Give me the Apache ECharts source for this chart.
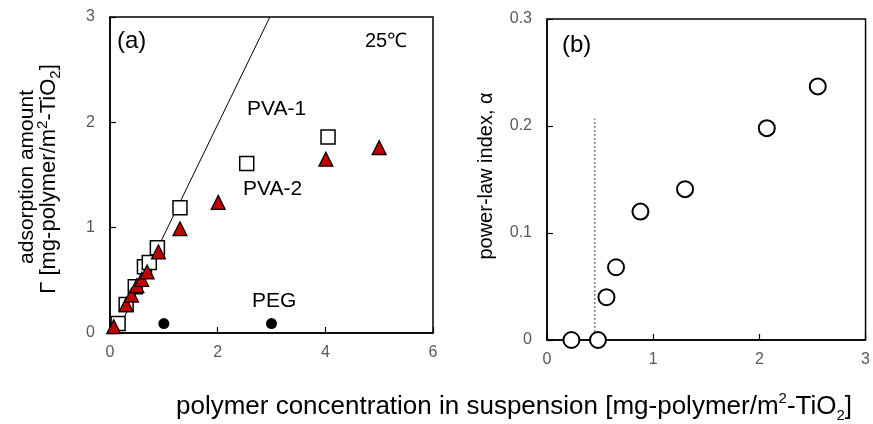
<!DOCTYPE html>
<html>
<head>
<meta charset="utf-8">
<script src="https://cdn.jsdelivr.net/npm/echarts@6/dist/echarts.min.js"></script>
<style>
  html, body { margin: 0; padding: 0; background: #fff; }
  #main { width: 873px; height: 424px; }
</style>
</head>
<body>
<div id="main"></div>
<script>
// (a) adsorption amount vs polymer concentration
const pva1Conc = [0.15, 0.30, 0.47, 0.64, 0.73, 0.88, 1.30, 2.54, 4.05];
const pva1Ads = [0.09, 0.27, 0.44, 0.63, 0.67, 0.81, 1.19, 1.61, 1.86];
const pva2Conc = [0.07, 0.30, 0.40, 0.50, 0.59, 0.69, 0.90, 1.30, 2.01, 4.01, 5.00];
const pva2Ads = [0.06, 0.27, 0.36, 0.45, 0.51, 0.58, 0.77, 0.99, 1.24, 1.65, 1.76];
const pegConc = [1.0, 3.0];
const pegAds = [0.09, 0.09];
const slopeLineConc = [0.12, 2.97];
const slopeLineAds = [0, 3];

// (b) power-law index
const alphaConc = [0.23, 0.48, 0.56, 0.65, 0.88, 1.30, 2.07, 2.55];
const alphaValues = [0, 0, 0.040, 0.068, 0.120, 0.141, 0.198, 0.237];
const thresholdConc = [0.45, 0.45];
const thresholdAlpha = [0, 0.207];

const leftXTicks = [0, 2, 4, 6];
const leftYTicks = [0, 1, 2, 3];
const rightXTicks = [0, 1, 2, 3];
const rightYTicks = [0, 0.1, 0.2, 0.3];

const zip = (a, b) => a.map((v, i) => [v, b[i]]);

const FONT = 'Liberation Sans, Arial, sans-serif';
const tickColor = '#595959';

function valueAxis(gridIndex, ticks, interval, labelExtra) {
  return {
    type: 'value',
    gridIndex: gridIndex,
    min: ticks[0],
    max: ticks[ticks.length - 1],
    interval: interval,
    axisLine: { show: true, onZero: false, lineStyle: { color: '#000', width: 1.5 } },
    axisTick: { show: true, inside: true, length: 6, lineStyle: { color: '#000', width: 1.2 } },
    axisLabel: Object.assign({ color: tickColor, fontSize: 16, fontFamily: FONT, margin: 12 }, labelExtra || {}),
    splitLine: { show: false }
  };
}

const chart = echarts.init(document.getElementById('main'), null, { renderer: 'canvas' });

const label = (text, x, y, size) => ({
  type: 'text',
  left: x,
  top: y,
  style: { text: text, fontSize: size, fontFamily: FONT, fill: '#000' }
});

const subSup = {
  sup: { fontSize: 15, fontFamily: FONT, fill: '#000', verticalAlign: 'top', lineHeight: 14 },
  sub: { fontSize: 15, fontFamily: FONT, fill: '#000', verticalAlign: 'bottom', lineHeight: 14 }
};

const option = {
  animation: false,
  backgroundColor: '#fff',
  grid: [
    { left: 110, top: 17, width: 323, height: 316, show: true, borderColor: '#000', borderWidth: 1.5, backgroundColor: 'transparent' },
    { left: 547, top: 19, width: 323, height: 321, show: true, borderColor: '#000', borderWidth: 1.5, backgroundColor: 'transparent' }
  ],
  xAxis: [
    valueAxis(0, leftXTicks, 2),
    valueAxis(1, rightXTicks, 1)
  ],
  yAxis: [
    valueAxis(0, leftYTicks, 1, { margin: 15 }),
    valueAxis(1, rightYTicks, 0.1, { margin: 15, formatter: v => v === 0 ? '0' : v.toFixed(1) })
  ],
  series: [
    {
      type: 'line',
      xAxisIndex: 0, yAxisIndex: 0,
      data: zip(slopeLineConc, slopeLineAds),
      symbol: 'none',
      lineStyle: { color: '#000', width: 1 },
      z: 1
    },
    {
      name: 'PVA-1',
      type: 'scatter',
      xAxisIndex: 0, yAxisIndex: 0,
      data: zip(pva1Conc, pva1Ads),
      symbol: 'rect',
      symbolSize: 14,
      itemStyle: { color: '#fff', borderColor: '#000', borderWidth: 1.5, opacity: 1 },
      z: 2
    },
    {
      name: 'PVA-2',
      type: 'scatter',
      xAxisIndex: 0, yAxisIndex: 0,
      data: zip(pva2Conc, pva2Ads),
      symbol: 'triangle',
      symbolSize: 14,
      itemStyle: { color: '#c00000', borderColor: '#000', borderWidth: 1.2, opacity: 1 },
      z: 3
    },
    {
      name: 'PEG',
      type: 'scatter',
      xAxisIndex: 0, yAxisIndex: 0,
      data: zip(pegConc, pegAds),
      symbol: 'circle',
      symbolSize: 11,
      itemStyle: { color: '#000', opacity: 1 },
      z: 3
    },
    {
      type: 'line',
      xAxisIndex: 1, yAxisIndex: 1,
      data: zip(thresholdConc, thresholdAlpha),
      symbol: 'none',
      lineStyle: { color: '#7f7f7f', width: 1.5, type: [2, 2] },
      z: 1
    },
    {
      name: 'alpha',
      type: 'scatter',
      xAxisIndex: 1, yAxisIndex: 1,
      data: zip(alphaConc, alphaValues),
      symbol: 'circle',
      symbolSize: 16,
      clip: false,
      itemStyle: { color: '#fff', borderColor: '#000', borderWidth: 2, opacity: 1 },
      z: 3
    }
  ],
  graphic: [
    label('(a)', 117, 29, 24),
    label('25℃', 365, 31, 20),
    label('PVA-1', 247, 99, 21),
    label('PVA-2', 243, 179, 21),
    label('PEG', 252, 291, 21),
    label('(b)', 562, 33, 24),
    {
      type: 'text',
      x: 514, y: 407,
      style: {
        text: 'polymer concentration in suspension [mg-polymer/m{sup|2}-TiO{sub|2}]',
        fontSize: 26, fontFamily: FONT, fill: '#000',
        align: 'center', verticalAlign: 'middle', lineHeight: 32,
        rich: subSup
      }
    },
    {
      type: 'text',
      x: 27, y: 177,
      rotation: Math.PI / 2,
      style: {
        text: 'adsorption amount',
        fontSize: 21, fontFamily: FONT, fill: '#000',
        align: 'center', verticalAlign: 'middle'
      }
    },
    {
      type: 'text',
      x: 49, y: 179,
      rotation: Math.PI / 2,
      style: {
        text: 'Γ [mg-polymer/m{sup|2}-TiO{sub|2}]',
        fontSize: 22, fontFamily: FONT, fill: '#000',
        align: 'center', verticalAlign: 'middle', lineHeight: 28,
        rich: subSup
      }
    },
    {
      type: 'text',
      x: 486, y: 176,
      rotation: Math.PI / 2,
      style: {
        text: 'power-law index, α',
        fontSize: 20, fontFamily: FONT, fill: '#000',
        align: 'center', verticalAlign: 'middle'
      }
    }
  ]
};

chart.setOption(option);
</script>
</body>
</html>
